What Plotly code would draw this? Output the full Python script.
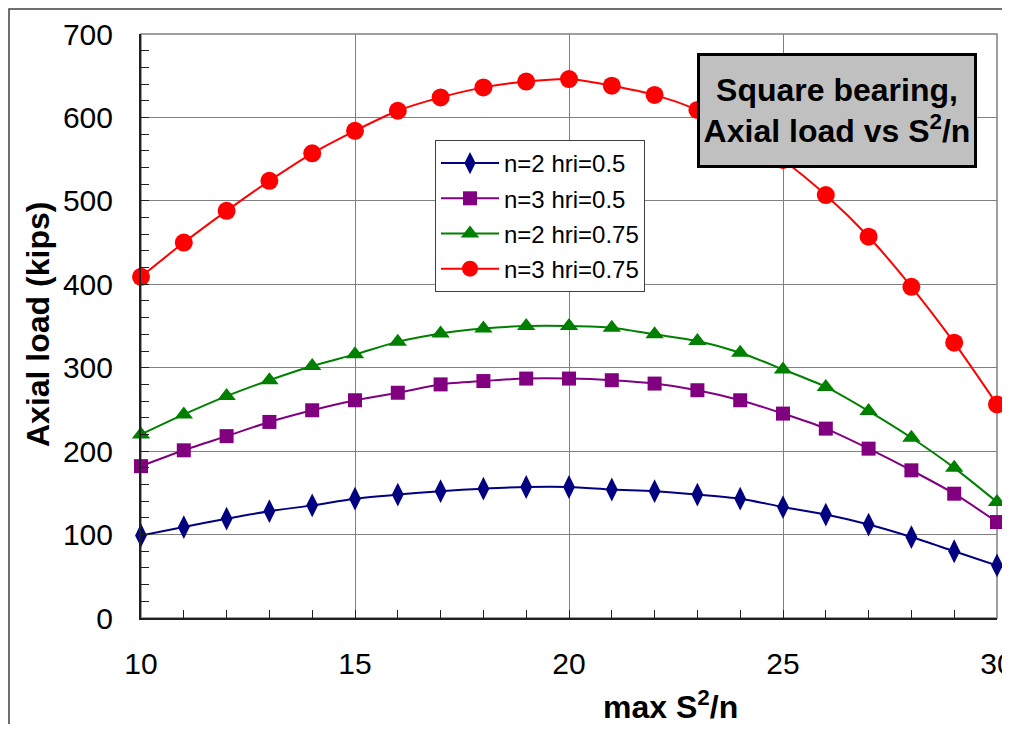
import plotly.graph_objects as go

x_vals = list(range(10, 31))
blue_n2_h05 = [99, 109, 119, 128, 135, 143, 148, 152, 155, 157, 157, 154, 152, 148, 143, 133, 124, 112, 97, 80, 63]
purple_n3_h05 = [182, 201, 218, 235, 249, 261, 270, 280, 284, 287, 287, 285, 281, 273, 261, 245, 227, 203, 177, 149, 115]
green_n2_h075 = [220, 244, 266, 285, 302, 316, 331, 341, 347, 350, 350, 348, 340, 332, 318, 298, 277, 248, 216, 180, 139]
red_n3_h075 = [409, 450, 488, 524, 557, 584, 608, 624, 636, 643, 646, 638, 627, 609, 583, 549, 507, 457, 397, 330, 256]

series_names = ["n=2 hri=0.5", "n=3 hri=0.5", "n=2 hri=0.75", "n=3 hri=0.75"]
series_vals = [blue_n2_h05, purple_n3_h05, green_n2_h075, red_n3_h075]
colors = ["#000080", "#800080", "#008000", "#FF0000"]
symbols = ["diamond-tall", "square", "triangle-up", "circle"]
sizes = [17, 14, 16, 18]

FONT = "Liberation Sans, Arial, sans-serif"

fig = go.Figure()
for i, (name, vals) in enumerate(zip(series_names, series_vals)):
    fig.add_trace(go.Scatter(
        x=x_vals, y=vals, name=name, mode="lines+markers",
        line=dict(color=colors[i], width=2, shape="spline", smoothing=0.8),
        marker=dict(symbol=symbols[i], size=sizes[i], color=colors[i]),
        cliponaxis=False, legendgroup=f"g{i}",
    ))

# page body has an 8px margin: figure origin sits at screen (8, 8);
# keep the figure inside the window so no scrollbars appear
OFF = 8
W, H = 994, 716
L, R, T, B = 133, 5, 26, 106
pw = W - L - R
ph = H - T - B

def px_x(sx):
    return (sx - OFF - L) / pw

def px_y(sy):
    return (H - B - (sy - OFF)) / ph

fig.update_layout(
    width=W, height=H,
    margin=dict(l=L, r=R, t=T, b=B, pad=0, autoexpand=False),
    paper_bgcolor="white", plot_bgcolor="white",
    font=dict(family=FONT, color="black"),
    showlegend=True,
    legend=dict(
        x=px_x(435), y=px_y(140), xanchor="left", yanchor="top",
        bgcolor="white", bordercolor="#404040", borderwidth=1,
        font=dict(size=24, family=FONT), traceorder="grouped",
        tracegroupgap=1, itemwidth=58,
    ),
    xaxis=dict(
        range=[10, 30], dtick=5, tick0=10, automargin=False,
        showgrid=True, gridcolor="#808080", gridwidth=1,
        showline=True, linecolor="#202020", linewidth=2,
        ticks="inside", ticklen=8, tickcolor="#202020", tickwidth=1,
        minor=dict(dtick=1, ticks="inside", ticklen=8, tickcolor="#202020", showgrid=False),
        tickfont=dict(size=30, family=FONT), ticklabelstandoff=18,
        ticklabeloverflow="allow",
        zeroline=False,
    ),
    yaxis=dict(
        range=[0, 700], dtick=100, automargin=False,
        showgrid=True, gridcolor="#808080", gridwidth=1,
        showline=True, linecolor="#202020", linewidth=2,
        ticks="inside", ticklen=8, tickcolor="#202020", tickwidth=1,
        minor=dict(dtick=20, ticks="inside", ticklen=8, tickcolor="#202020", showgrid=False),
        tickfont=dict(size=30, family=FONT), ticklabelstandoff=20,
        zeroline=False,
    ),
    shapes=[
        dict(type="rect", xref="paper", yref="paper", x0=0, x1=1, y0=0, y1=1,
             line=dict(color="#808080", width=1.5), layer="below"),
        dict(type="rect", xref="paper", yref="paper",
             x0=px_x(9), x1=px_x(1040), y0=px_y(770), y1=px_y(9),
             line=dict(color="#404040", width=1.5), layer="below"),
    ],
    annotations=[
        dict(text="<b>Square bearing,<br>Axial load vs S<sup>2</sup>/n</b>",
             xref="paper", yref="paper", x=px_x(837), y=px_y(110.5),
             xanchor="center", yanchor="middle", showarrow=False,
             font=dict(size=32, family=FONT, color="black"),
             bgcolor="#C0C0C0", bordercolor="black", borderwidth=3,
             width=274, height=109, borderpad=0, align="center"),
        dict(text="<b>max S<sup>2</sup>/n</b>", xref="paper", yref="paper",
             x=px_x(670), y=px_y(705), xanchor="center", yanchor="middle",
             showarrow=False, font=dict(size=32, family=FONT, color="black")),
        dict(text="<b>Axial load (kips)</b>", xref="paper", yref="paper",
             x=px_x(38), y=px_y(325), xanchor="center", yanchor="middle",
             textangle=-90, showarrow=False,
             font=dict(size=32, family=FONT, color="black")),
    ],
)

fig.write_html("out.html")
